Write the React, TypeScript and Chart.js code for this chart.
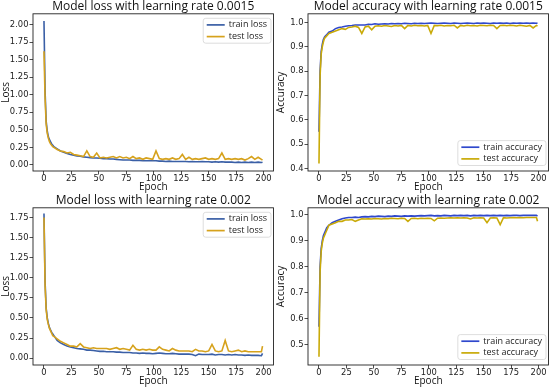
import React, { useEffect, useRef } from "react";
import { Chart, registerables } from "chart.js";

Chart.register(...registerables);

const EPOCHS = [0,1,2,3,4,5,6,7,8,9,12,15,18,21,24,27,30,33,36,39,42,45,48,51,54,57,60,63,66,69,72,75,78,81,84,87,90,93,96,99,102,105,108,111,114,117,120,123,126,129,132,135,138,141,144,147,150,153,156,159,162,165,168,171,174,177,180,183,186,189,192,195,198,199];

const EPOCH_TICKS = [0, 25, 50, 75, 100, 125, 150, 175, 200];
const LOSS1_TICKS = [0, 0.25, 0.5, 0.75, 1.0, 1.25, 1.5, 1.75, 2.0];
const LOSS2_TICKS = [0, 0.25, 0.5, 0.75, 1.0, 1.25, 1.5, 1.75];
const ACC1_TICKS = [0.4, 0.5, 0.6, 0.7, 0.8, 0.9, 1.0];
const ACC2_TICKS = [0.5, 0.6, 0.7, 0.8, 0.9, 1.0];

const TITLES = [
  "Model loss with learning rate 0.0015",
  "Model accuracy with learning rate 0.0015",
  "Model loss with learning rate 0.002",
  "Model accuracy with learning rate 0.002",
];

const L1_TRAIN = [2.05,1.05,0.62,0.48,0.40,0.36,0.33,0.30,0.28,0.26,
0.23,0.20,0.18,0.165,0.15,0.14,0.13,0.125,0.115,0.11,
0.105,0.10,0.10,0.095,0.09,0.09,0.085,0.085,0.08,0.075,
0.07,0.07,0.07,0.065,0.065,0.065,0.06,0.06,0.06,0.06,
0.06,0.055,0.055,0.05,0.055,0.05,0.05,0.05,0.05,0.05,
0.045,0.05,0.045,0.045,0.05,0.045,0.045,0.04,0.045,0.04,
0.045,0.04,0.04,0.04,0.035,0.04,0.035,0.04,0.035,0.04,
0.035,0.04,0.035,0.04];

const L1_TEST = [1.62,0.95,0.58,0.45,0.38,0.33,0.30,0.28,0.26,0.25,
0.22,0.20,0.19,0.17,0.18,0.15,0.14,0.13,0.12,0.20,
0.12,0.11,0.17,0.10,0.11,0.10,0.11,0.12,0.10,0.12,
0.10,0.11,0.09,0.12,0.09,0.10,0.08,0.10,0.09,0.08,
0.20,0.09,0.08,0.09,0.08,0.10,0.08,0.09,0.15,0.08,
0.11,0.08,0.09,0.08,0.09,0.10,0.08,0.09,0.08,0.09,
0.17,0.08,0.09,0.08,0.09,0.08,0.09,0.07,0.09,0.12,
0.08,0.11,0.08,0.07];

const A1_TRAIN = [0.55,0.80,0.88,0.91,0.93,0.94,0.945,0.95,0.955,0.96,
0.965,0.975,0.98,0.982,0.985,0.987,0.988,0.99,0.99,0.99,
0.99,0.993,0.992,0.995,0.993,0.994,0.995,0.994,0.996,0.995,
0.996,0.995,0.997,0.996,0.995,0.997,0.996,0.997,0.996,0.997,
0.998,0.997,0.996,0.997,0.998,0.997,0.996,0.998,0.997,0.996,
0.997,0.998,0.997,0.996,0.998,0.997,0.998,0.997,0.996,0.998,
0.997,0.998,0.997,0.998,0.996,0.998,0.997,0.998,0.997,0.998,
0.997,0.998,0.997,0.998];

const A1_TEST = [0.42,0.78,0.87,0.90,0.92,0.935,0.94,0.945,0.95,0.955,
0.96,0.965,0.97,0.975,0.972,0.98,0.982,0.985,0.98,0.955,
0.982,0.985,0.97,0.985,0.987,0.985,0.988,0.986,0.984,0.988,
0.986,0.988,0.975,0.988,0.986,0.989,0.987,0.988,0.986,0.988,
0.955,0.988,0.987,0.989,0.986,0.988,0.987,0.989,0.978,0.988,
0.986,0.989,0.987,0.988,0.986,0.989,0.988,0.987,0.989,0.988,
0.975,0.988,0.989,0.987,0.989,0.988,0.986,0.989,0.987,0.985,
0.988,0.978,0.988,0.985];

const L2_TRAIN = [1.80,0.95,0.62,0.50,0.43,0.38,0.35,0.32,0.30,0.28,
0.22,0.19,0.17,0.15,0.14,0.13,0.12,0.115,0.11,0.10,
0.10,0.095,0.09,0.085,0.085,0.08,0.08,0.08,0.075,0.075,
0.07,0.07,0.07,0.065,0.065,0.06,0.065,0.06,0.06,0.055,
0.06,0.065,0.06,0.055,0.055,0.06,0.055,0.05,0.05,0.05,
0.05,0.045,0.03,0.05,0.045,0.045,0.045,0.05,0.04,0.045,
0.045,0.04,0.045,0.04,0.045,0.04,0.04,0.035,0.04,0.035,
0.035,0.035,0.03,0.06];

const L2_TEST = [1.75,0.90,0.60,0.48,0.42,0.37,0.34,0.31,0.28,0.27,
0.24,0.21,0.19,0.17,0.15,0.15,0.14,0.18,0.14,0.13,
0.12,0.13,0.12,0.12,0.12,0.12,0.11,0.12,0.13,0.11,
0.12,0.11,0.10,0.16,0.11,0.10,0.11,0.10,0.11,0.10,
0.10,0.14,0.11,0.10,0.09,0.12,0.10,0.09,0.09,0.09,
0.09,0.08,0.11,0.09,0.09,0.08,0.09,0.17,0.09,0.08,
0.09,0.22,0.09,0.08,0.09,0.10,0.08,0.09,0.08,0.08,
0.08,0.08,0.08,0.15];

const A2_TRAIN = [0.57,0.80,0.87,0.90,0.92,0.93,0.94,0.95,0.955,0.96,
0.97,0.975,0.98,0.985,0.988,0.99,0.99,0.991,0.99,0.992,
0.993,0.992,0.994,0.993,0.995,0.994,0.993,0.995,0.994,0.996,
0.995,0.994,0.996,0.995,0.996,0.995,0.996,0.997,0.996,0.997,
0.998,0.996,0.997,0.996,0.998,0.997,0.996,0.998,0.997,0.998,
0.997,0.998,0.996,0.998,0.997,0.998,0.997,0.998,0.997,0.998,
0.997,0.998,0.997,0.998,0.997,0.998,0.998,0.997,0.998,0.998,
0.998,0.998,0.998,0.995];

const A2_TEST = [0.455,0.78,0.86,0.89,0.91,0.92,0.93,0.94,0.95,0.96,
0.965,0.97,0.975,0.975,0.98,0.98,0.982,0.975,0.98,0.985,
0.984,0.985,0.984,0.986,0.985,0.984,0.986,0.985,0.987,0.986,
0.985,0.987,0.986,0.975,0.986,0.987,0.985,0.987,0.986,0.987,
0.986,0.977,0.987,0.988,0.987,0.988,0.989,0.988,0.989,0.988,
0.989,0.988,0.984,0.989,0.988,0.989,0.988,0.97,0.988,0.989,
0.988,0.962,0.989,0.988,0.989,0.99,0.989,0.99,0.989,0.99,
0.99,0.99,0.99,0.975];

const W = 275;
const H = 194;
const AREA_LEFT = 33;
const AREA_RIGHT = 273.5;
const AREA_BOTTOM = 171;

const frameLegendPlugin = {
  id: "frameLegend",
  afterDatasetsDraw(chart: any, _args: any, opts: any) {
    const ctx = chart.ctx;
    const { left, right, top, bottom } = chart.chartArea;
    ctx.save();
    ctx.strokeStyle = "#222";
    ctx.lineWidth = 0.9;
    ctx.strokeRect(left, top, right - left, bottom - top);

    ctx.font = '9px "Open Sans"';
    const ds = chart.data.datasets;
    let tw = 0;
    ds.forEach((d: any) => {
      tw = Math.max(tw, ctx.measureText(d.label).width);
    });
    const padL = 3.5, lineLen = 18, gap = 4, padR = 4, rowH = 11.7, padV = 6.6;
    const w = padL + lineLen + gap + tw + padR;
    const h = padV * 2 + rowH * (ds.length - 1);
    const x = right - 2.5 - w;
    const y = opts.pos === "tr" ? top + 4.5 : bottom - 5.5 - h;
    ctx.beginPath();
    ctx.roundRect(x, y, w, h, 2.5);
    ctx.fillStyle = "rgba(255,255,255,0.85)";
    ctx.fill();
    ctx.strokeStyle = "#d4d4d4";
    ctx.lineWidth = 0.8;
    ctx.stroke();
    ds.forEach((d: any, i: number) => {
      const cy = y + padV + rowH * i;
      ctx.beginPath();
      ctx.strokeStyle = d.borderColor;
      ctx.lineWidth = 1.7;
      ctx.moveTo(x + padL, cy);
      ctx.lineTo(x + padL + lineLen, cy);
      ctx.stroke();
      ctx.fillStyle = "#222";
      ctx.textBaseline = "middle";
      ctx.textAlign = "left";
      ctx.fillText(d.label, x + padL + lineLen + gap, cy);
    });
    ctx.restore();
  },
};

type PanelProps = {
  title: string;
  yLabel: string;
  train: number[];
  test: number[];
  trainLabel: string;
  testLabel: string;
  trainColor: string;
  testColor: string;
  yMin: number;
  yMax: number;
  yTicks: number[];
  decimals: number;
  legendPos: string;
  left: number;
  top: number;
};

function Panel(p: PanelProps) {
  const ref = useRef<HTMLCanvasElement | null>(null);
  useEffect(() => {
    if (!ref.current) return;
    const tickGrid = {
      display: true,
      drawOnChartArea: false,
      drawTicks: true,
      tickLength: 3.5,
      color: "#222",
      lineWidth: 0.8,
    };
    const chart = new Chart(ref.current, {
      type: "line",
      data: {
        datasets: [
          {
            label: p.trainLabel,
            data: EPOCHS.map((e, i) => ({ x: e, y: p.train[i] })),
            borderColor: p.trainColor,
            backgroundColor: p.trainColor,
            borderWidth: 1.6,
            pointRadius: 0,
            tension: 0,
            order: 1,
          },
          {
            label: p.testLabel,
            data: EPOCHS.map((e, i) => ({ x: e, y: p.test[i] })),
            borderColor: p.testColor,
            backgroundColor: p.testColor,
            borderWidth: 1.6,
            pointRadius: 0,
            tension: 0,
            order: 0,
          },
        ],
      },
      options: {
        responsive: false,
        animation: false,
        layout: { padding: { left: 0, right: W - AREA_RIGHT, top: 0, bottom: 1.0 } },
        plugins: {
          legend: { display: false },
          tooltip: { enabled: false },
          title: {
            display: true,
            text: p.title,
            fullSize: false,
            color: "#111",
            font: { family: "Open Sans", size: 12, weight: "normal", lineHeight: 1.15 },
            padding: { top: 0, bottom: 0 },
          },
          frameLegend: { pos: p.legendPos },
        } as any,
        scales: {
          x: {
            type: "linear",
            min: -10,
            max: 209,
            grid: tickGrid,
            border: { display: false },
            afterFit: (s: any) => {
              s.height = H - 1.0 - AREA_BOTTOM;
            },
            afterBuildTicks: (s: any) => {
              s.ticks = EPOCH_TICKS.map((v) => ({ value: v }));
            },
            ticks: {
              color: "#222",
              padding: 0,
              maxRotation: 0,
              font: { family: "DejaVu Sans", size: 8.4, lineHeight: 1.0 },
              callback: (v: any) => String(v),
            },
            title: {
              display: true,
              text: "Epoch",
              color: "#111",
              padding: 0,
              font: { family: "Open Sans", size: 10, lineHeight: 1.2 },
            },
          },
          y: {
            type: "linear",
            min: p.yMin,
            max: p.yMax,
            grid: tickGrid,
            border: { display: false },
            afterFit: (s: any) => {
              s.width = AREA_LEFT;
            },
            afterBuildTicks: (s: any) => {
              s.ticks = p.yTicks.map((v) => ({ value: v }));
            },
            ticks: {
              color: "#222",
              padding: 1,
              font: { family: "DejaVu Sans", size: 8.4 },
              callback: (v: any) => Number(v).toFixed(p.decimals),
            },
            title: {
              display: true,
              text: p.yLabel,
              color: "#111",
              padding: 0,
              font: { family: "Open Sans", size: 10, lineHeight: 1.15 },
            },
          },
        },
      },
      plugins: [frameLegendPlugin],
    } as any);
    return () => chart.destroy();
  }, []);
  return (
    <canvas
      ref={ref}
      width={W}
      height={H}
      style={{ position: "absolute", left: p.left, top: p.top, width: W, height: H }}
    />
  );
}

const LOSS_TRAIN_COLOR = "#3a5fa6";
const LOSS_TEST_COLOR = "#d6a21c";
const ACC_TRAIN_COLOR = "#2f48cc";
const ACC_TEST_COLOR = "#c9aa08";

export default function App() {
  return (
    <div style={{ position: "fixed", left: 0, top: 0, width: 550, height: 388, background: "#fff" }}>
      <Panel
        title={TITLES[0]} yLabel="Loss" train={L1_TRAIN} test={L1_TEST}
        trainLabel="train loss" testLabel="test loss"
        trainColor={LOSS_TRAIN_COLOR} testColor={LOSS_TEST_COLOR}
        yMin={-0.086} yMax={2.153} yTicks={LOSS1_TICKS} decimals={2}
        legendPos="tr" left={0} top={0}
      />
      <Panel
        title={TITLES[1]} yLabel="Accuracy" train={A1_TRAIN} test={A1_TEST}
        trainLabel="train accuracy" testLabel="test accuracy"
        trainColor={ACC_TRAIN_COLOR} testColor={ACC_TEST_COLOR}
        yMin={0.389} yMax={1.036} yTicks={ACC1_TICKS} decimals={1}
        legendPos="br" left={275} top={0}
      />
      <Panel
        title={TITLES[2]} yLabel="Loss" train={L2_TRAIN} test={L2_TEST}
        trainLabel="train loss" testLabel="test loss"
        trainColor={LOSS_TRAIN_COLOR} testColor={LOSS_TEST_COLOR}
        yMin={-0.085} yMax={1.87} yTicks={LOSS2_TICKS} decimals={2}
        legendPos="tr" left={0} top={194}
      />
      <Panel
        title={TITLES[3]} yLabel="Accuracy" train={A2_TRAIN} test={A2_TEST}
        trainLabel="train accuracy" testLabel="test accuracy"
        trainColor={ACC_TRAIN_COLOR} testColor={ACC_TEST_COLOR}
        yMin={0.423} yMax={1.027} yTicks={ACC2_TICKS} decimals={1}
        legendPos="br" left={275} top={194}
      />
    </div>
  );
}
